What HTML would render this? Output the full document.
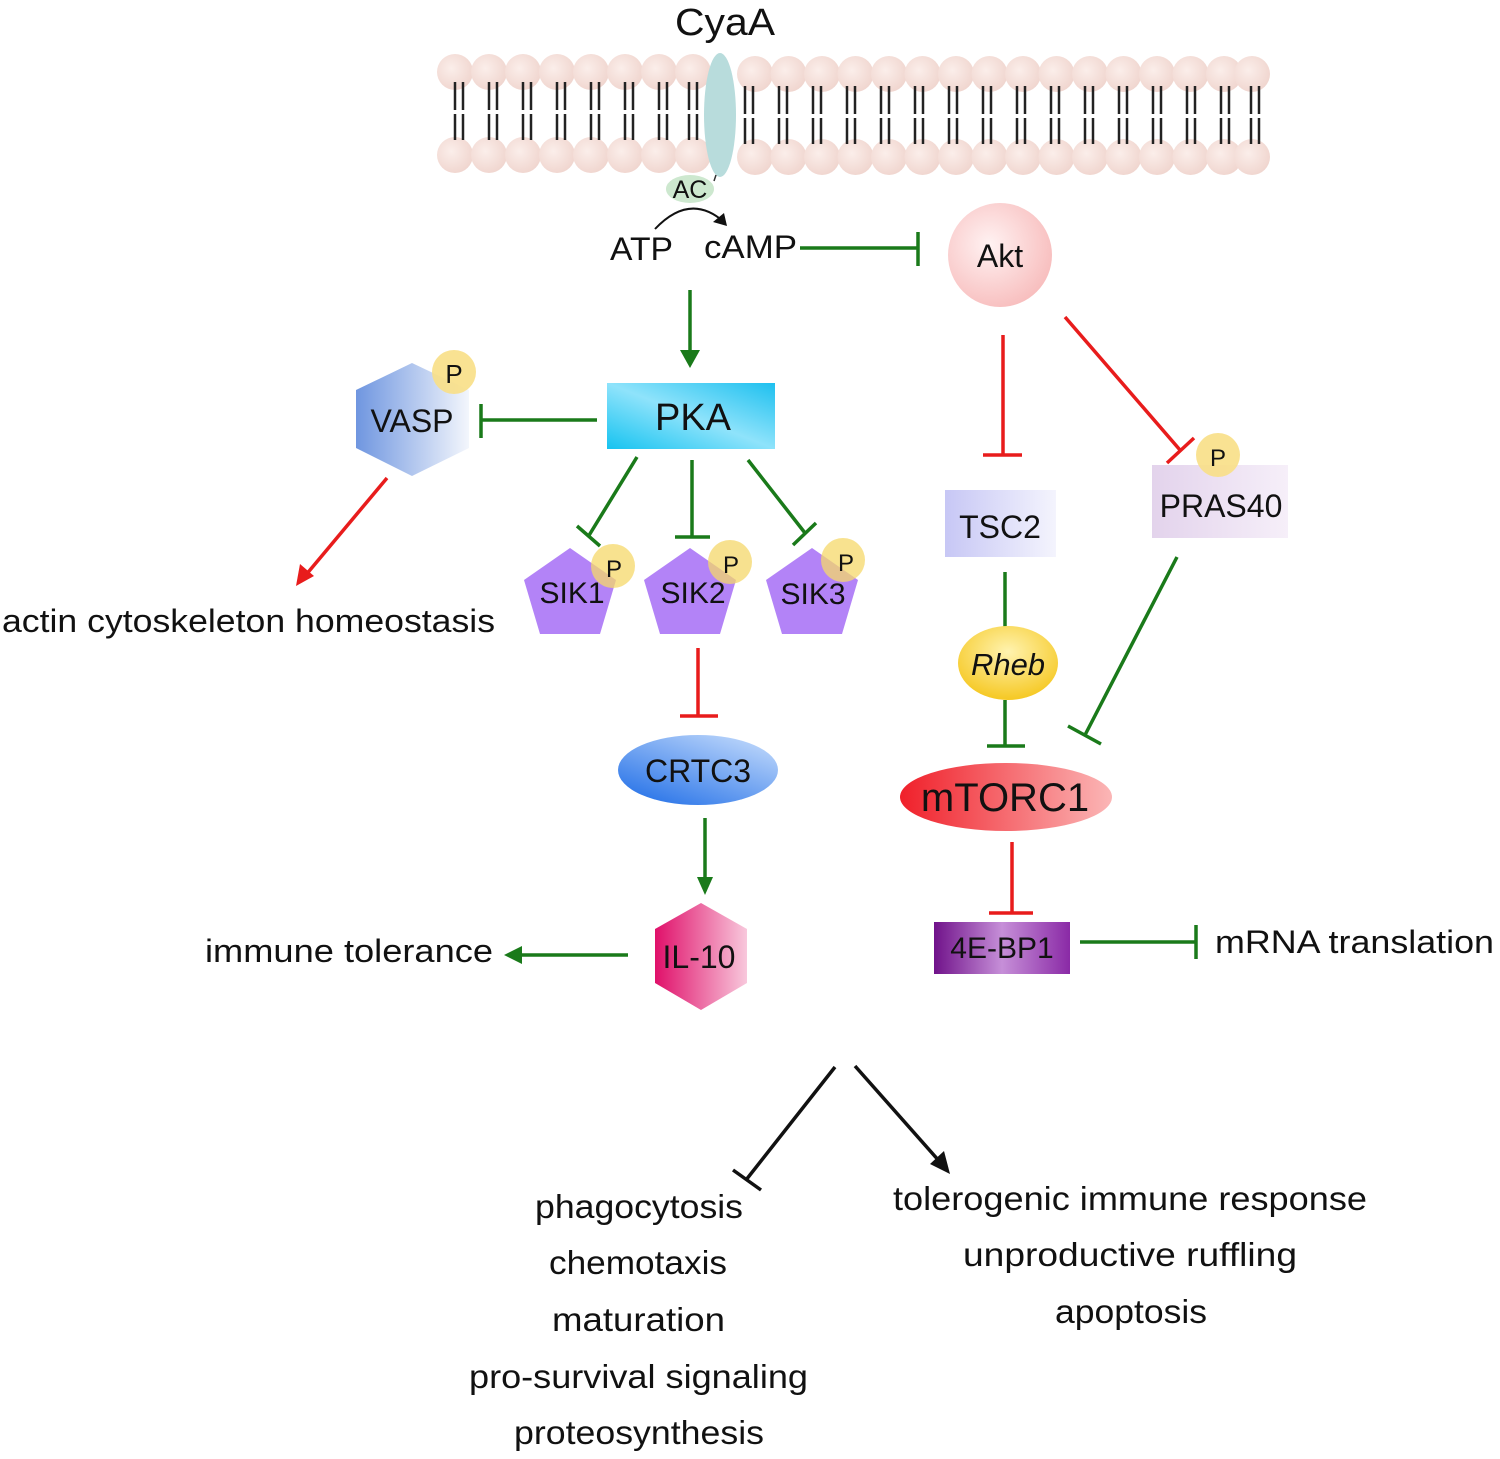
<!DOCTYPE html>
<html><head><meta charset="utf-8"><style>html,body{margin:0;padding:0;background:#fff}svg{display:block}text{font-family:"Liberation Sans",sans-serif;fill:#111}</style></head>
<body>
<svg width="1500" height="1459" viewBox="0 0 1500 1459" xmlns="http://www.w3.org/2000/svg">
<defs>
<radialGradient id="head" cx="0.4" cy="0.4" r="0.7"><stop offset="0" stop-color="#fbeeea"/><stop offset="1" stop-color="#efd3cc"/></radialGradient>
<radialGradient id="akt" cx="0.4" cy="0.4" r="0.7"><stop offset="0" stop-color="#fff2f2"/><stop offset="1" stop-color="#f7b9b9"/></radialGradient>
<linearGradient id="pka" x1="0" y1="1" x2="1" y2="0"><stop offset="0" stop-color="#16c3f0"/><stop offset="0.5" stop-color="#8fe3fb"/><stop offset="1" stop-color="#1ec0ef"/></linearGradient>
<linearGradient id="vasp" x1="0" y1="0" x2="1" y2="0"><stop offset="0" stop-color="#6f96e0"/><stop offset="1" stop-color="#f3f6fc"/></linearGradient>
<linearGradient id="crtc" x1="0" y1="1" x2="0.8" y2="0"><stop offset="0" stop-color="#1a6ae6"/><stop offset="1" stop-color="#bcd6fb"/></linearGradient>
<linearGradient id="il" x1="0" y1="0" x2="1" y2="0"><stop offset="0" stop-color="#e0106a"/><stop offset="1" stop-color="#f8c8dc"/></linearGradient>
<linearGradient id="tsc" x1="0" y1="0" x2="1" y2="0"><stop offset="0" stop-color="#c7c7f5"/><stop offset="1" stop-color="#f4f4fd"/></linearGradient>
<linearGradient id="pras" x1="0" y1="0" x2="1" y2="0"><stop offset="0" stop-color="#e3d3ec"/><stop offset="1" stop-color="#f6eff9"/></linearGradient>
<radialGradient id="rheb" cx="0.5" cy="0.35" r="0.7"><stop offset="0" stop-color="#fff3b0"/><stop offset="1" stop-color="#f5c518"/></radialGradient>
<linearGradient id="mtor" x1="0" y1="0" x2="1" y2="0"><stop offset="0" stop-color="#f0202a"/><stop offset="1" stop-color="#fbb6b6"/></linearGradient>
<linearGradient id="bp" x1="0" y1="0" x2="1" y2="0"><stop offset="0" stop-color="#70128a"/><stop offset="0.5" stop-color="#c68fd8"/><stop offset="1" stop-color="#8a2aa6"/></linearGradient>
</defs>

<g fill="url(#head)">
<circle cx="455" cy="72" r="18"/><circle cx="489" cy="72" r="18"/><circle cx="523" cy="72" r="18"/><circle cx="557" cy="72" r="18"/><circle cx="591" cy="72" r="18"/><circle cx="625" cy="72" r="18"/><circle cx="659" cy="72" r="18"/><circle cx="693" cy="72" r="18"/>
<circle cx="755" cy="74" r="18"/><circle cx="788.5" cy="74" r="18"/><circle cx="822" cy="74" r="18"/><circle cx="855.5" cy="74" r="18"/><circle cx="889" cy="74" r="18"/><circle cx="922.5" cy="74" r="18"/><circle cx="956" cy="74" r="18"/><circle cx="989.5" cy="74" r="18"/><circle cx="1023" cy="74" r="18"/><circle cx="1056.5" cy="74" r="18"/><circle cx="1090" cy="74" r="18"/><circle cx="1123.5" cy="74" r="18"/><circle cx="1157" cy="74" r="18"/><circle cx="1190.5" cy="74" r="18"/><circle cx="1224" cy="74" r="18"/><circle cx="1252" cy="74" r="18"/>
<circle cx="455" cy="155" r="18"/><circle cx="489" cy="155" r="18"/><circle cx="523" cy="155" r="18"/><circle cx="557" cy="155" r="18"/><circle cx="591" cy="155" r="18"/><circle cx="625" cy="155" r="18"/><circle cx="659" cy="155" r="18"/><circle cx="693" cy="155" r="18"/>
<circle cx="755" cy="157" r="18"/><circle cx="788.5" cy="157" r="18"/><circle cx="822" cy="157" r="18"/><circle cx="855.5" cy="157" r="18"/><circle cx="889" cy="157" r="18"/><circle cx="922.5" cy="157" r="18"/><circle cx="956" cy="157" r="18"/><circle cx="989.5" cy="157" r="18"/><circle cx="1023" cy="157" r="18"/><circle cx="1056.5" cy="157" r="18"/><circle cx="1090" cy="157" r="18"/><circle cx="1123.5" cy="157" r="18"/><circle cx="1157" cy="157" r="18"/><circle cx="1190.5" cy="157" r="18"/><circle cx="1224" cy="157" r="18"/><circle cx="1252" cy="157" r="18"/>
</g>
<g stroke="#222" stroke-width="2.5">
<path d="M455 82v28M463 82v28M455 114v26M463 114v26M489 82v28M497 82v28M489 114v26M497 114v26M523 82v28M531 82v28M523 114v26M531 114v26M557 82v28M565 82v28M557 114v26M565 114v26M591 82v28M599 82v28M591 114v26M599 114v26M625 82v28M633 82v28M625 114v26M633 114v26M659 82v28M667 82v28M659 114v26M667 114v26M689 82v28M697 82v28M689 114v26M697 114v26"/>
<path d="M745 86v28M753 86v28M745 118v26M753 118v26M779 86v28M787 86v28M779 118v26M787 118v26M813 86v28M821 86v28M813 118v26M821 118v26M847 86v28M855 86v28M847 118v26M855 118v26M881 86v28M889 86v28M881 118v26M889 118v26M915 86v28M923 86v28M915 118v26M923 118v26M949 86v28M957 86v28M949 118v26M957 118v26M983 86v28M991 86v28M983 118v26M991 118v26M1017 86v28M1025 86v28M1017 118v26M1025 118v26M1051 86v28M1059 86v28M1051 118v26M1059 118v26M1085 86v28M1093 86v28M1085 118v26M1093 118v26M1119 86v28M1127 86v28M1119 118v26M1127 118v26M1153 86v28M1161 86v28M1153 118v26M1161 118v26M1187 86v28M1195 86v28M1187 118v26M1195 118v26M1221 86v28M1229 86v28M1221 118v26M1229 118v26M1251 86v28M1259 86v28M1251 118v26M1259 118v26"/>
</g>
<ellipse cx="720" cy="115" rx="16" ry="62" fill="#b8dcdc"/>
<line x1="716" y1="175" x2="714" y2="181" stroke="#333" stroke-width="1.5"/>
<text x="675" y="35" font-size="38" textLength="100" lengthAdjust="spacingAndGlyphs">CyaA</text>
<ellipse cx="690" cy="189" rx="24" ry="14" fill="#cde8cf"/>
<text x="690" y="198" font-size="25" text-anchor="middle">AC</text>
<path d="M655 229 Q690 192 724 222" fill="none" stroke="#111" stroke-width="2"/>
<path d="M727 226 L713 222 L724 213 Z" fill="#111"/>
<text x="610" y="260" font-size="32" textLength="63" lengthAdjust="spacingAndGlyphs">ATP</text>
<text x="704" y="258" font-size="32" textLength="93" lengthAdjust="spacingAndGlyphs">cAMP</text>

<g stroke="#1a7a1a" stroke-width="3.5" fill="none">
<path d="M800 248H918M918 232V266"/>
<path d="M690 290V352"/>
<path d="M597 420H481M481 404V438"/>
<path d="M637 457L588 537M577 526L600 546"/>
<path d="M692 460V537M675 537H710"/>
<path d="M748 460L805 533M793 545L816 523"/>
<path d="M705 818V880"/>
<path d="M628 955H518"/>
<path d="M1005 572V630"/>
<path d="M1005 700V745M987 746H1025"/>
<path d="M1177 557L1085 735M1068 726L1101 744"/>
<path d="M1080 942H1196M1196 925V959"/>
</g>
<path d="M680 350 L700 350 L690 368 Z" fill="#1a7a1a"/>
<path d="M697 877 L713 877 L705 895 Z" fill="#1a7a1a"/>
<path d="M522 946 L522 964 L504 955 Z" fill="#1a7a1a"/>

<g stroke="#e81c1c" stroke-width="3.5" fill="none">
<path d="M387 478L305 576"/>
<path d="M698 648V716M680 716H718"/>
<path d="M1003 335V455M983 455H1022"/>
<path d="M1065 317L1180 450M1167 463L1194 438"/>
<path d="M1012 842V913M989 913H1033"/>
</g>
<path d="M296 586 L300 564 L314 576 Z" fill="#e81c1c"/>

<circle cx="1000" cy="255" r="52" fill="url(#akt)"/>
<text x="1000" y="267" font-size="32" text-anchor="middle">Akt</text>

<rect x="607" y="383" width="168" height="66" fill="url(#pka)"/>
<text x="693" y="430" font-size="38" text-anchor="middle">PKA</text>

<polygon points="412,363 469,390 469,448 412,476 356,448 356,390" fill="url(#vasp)"/>
<text x="412" y="432" font-size="32" text-anchor="middle">VASP</text>
<circle cx="454" cy="372" r="22" fill="#f8df86" opacity="0.9"/>
<text x="454" y="383" font-size="26" text-anchor="middle">P</text>

<text x="2" y="632" font-size="32" textLength="493" lengthAdjust="spacingAndGlyphs">actin cytoskeleton homeostasis</text>

<g fill="#b383f7">
<polygon points="570,548 616,580 600,634 540,634 524,580"/>
<polygon points="690,548 736,580 720,634 660,634 644,580"/>
<polygon points="812,548 858,580 842,634 782,634 766,580"/>
</g>
<g fill="#f5d86a" opacity="0.75">
<circle cx="613" cy="566" r="22"/><circle cx="730" cy="562" r="22"/><circle cx="843" cy="560" r="22"/>
</g>
<g font-size="30" text-anchor="middle">
<text x="572" y="603">SIK1</text><text x="693" y="603">SIK2</text><text x="813" y="604">SIK3</text>
</g>
<g font-size="24" text-anchor="middle">
<text x="614" y="577">P</text><text x="731" y="573">P</text><text x="846" y="571">P</text>
</g>

<ellipse cx="698" cy="770" rx="80" ry="35" fill="url(#crtc)"/>
<text x="698" y="782" font-size="32" text-anchor="middle">CRTC3</text>

<polygon points="701,903 747,929 747,983 701,1010 655,983 655,929" fill="url(#il)"/>
<text x="699" y="968" font-size="32" text-anchor="middle">IL-10</text>
<text x="205" y="962" font-size="32" textLength="288" lengthAdjust="spacingAndGlyphs">immune tolerance</text>

<rect x="945" y="490" width="111" height="67" fill="url(#tsc)"/>
<text x="1000" y="538" font-size="32" text-anchor="middle">TSC2</text>
<rect x="1152" y="465" width="136" height="73" fill="url(#pras)"/>
<circle cx="1218" cy="455" r="22" fill="#f8df86" opacity="0.9"/>
<text x="1218" y="466" font-size="24" text-anchor="middle">P</text>
<text x="1221" y="517" font-size="32" text-anchor="middle">PRAS40</text>
<ellipse cx="1008" cy="663" rx="50" ry="37" fill="url(#rheb)"/>
<text x="1008" y="675" font-size="31" font-style="italic" text-anchor="middle">Rheb</text>
<ellipse cx="1006" cy="797" rx="106" ry="34" fill="url(#mtor)"/>
<text x="1005" y="811" font-size="40" text-anchor="middle">mTORC1</text>
<rect x="934" y="922" width="136" height="52" fill="url(#bp)"/>
<text x="1002" y="958" font-size="30" text-anchor="middle">4E-BP1</text>
<text x="1215" y="953" font-size="32" textLength="279" lengthAdjust="spacingAndGlyphs">mRNA translation</text>

<g stroke="#111" stroke-width="3.5" fill="none">
<path d="M835 1067L746 1180M733 1170L761 1190"/>
<path d="M855 1066L940 1162"/>
</g>
<path d="M950 1174 L930 1164 L944 1151 Z" fill="#111"/>
<g font-size="33" lengthAdjust="spacingAndGlyphs">
<text x="535" y="1218" textLength="208" lengthAdjust="spacingAndGlyphs">phagocytosis</text>
<text x="549" y="1274" textLength="178" lengthAdjust="spacingAndGlyphs">chemotaxis</text>
<text x="552" y="1331" textLength="173" lengthAdjust="spacingAndGlyphs">maturation</text>
<text x="469" y="1388" textLength="339" lengthAdjust="spacingAndGlyphs">pro-survival signaling</text>
<text x="514" y="1444" textLength="250" lengthAdjust="spacingAndGlyphs">proteosynthesis</text>
<text x="893" y="1210" textLength="474" lengthAdjust="spacingAndGlyphs">tolerogenic immune response</text>
<text x="963" y="1266" textLength="334" lengthAdjust="spacingAndGlyphs">unproductive ruffling</text>
<text x="1055" y="1323" textLength="152" lengthAdjust="spacingAndGlyphs">apoptosis</text>
</g>
</svg>
</body></html>
